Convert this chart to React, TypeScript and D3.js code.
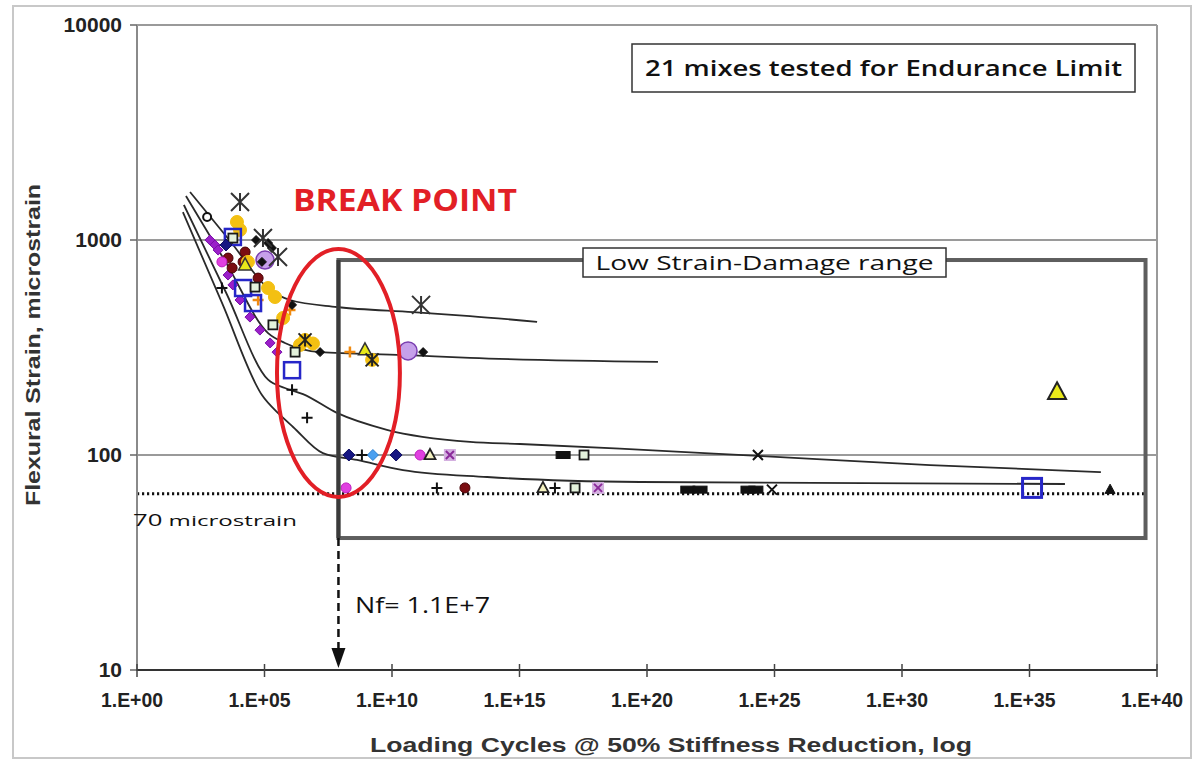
import React from 'react';
import * as d3 from 'd3';

// ---------- data ----------
const X_EXPONENTS = [0, 5, 10, 15, 20, 25, 30, 35, 40];
const Y_TICKS = [10, 100, 1000, 10000];

// fitted fatigue curves: [log10(loading cycles), microstrain]
const curveA: [number, number][] = [[2.08, 1672], [3.65, 989], [5.22, 585], [6.0, 526], [7.84, 488], [10.82, 462], [13.06, 443], [15.69, 416]];
const curveB: [number, number][] = [[1.92, 1602], [3.53, 770], [5.14, 369], [5.8, 332], [7.18, 301], [10.43, 292], [13.06, 283], [20.43, 271]];
const curveC: [number, number][] = [[1.84, 1455], [3.49, 570], [5.14, 224], [5.8, 205], [6.51, 192], [7.84, 157], [9.8, 131], [13.06, 115], [15.02, 112.5], [18.94, 107], [24.35, 99], [31.1, 89.8], [37.8, 83.3]];
const curveD: [number, number][] = [[1.8, 1349], [3.35, 504], [4.9, 190], [5.61, 153.5], [6.12, 135], [7.29, 102], [8.63, 94.8], [10.43, 85.1], [13.73, 79], [19.73, 74.9], [36.39, 73.3]];

// test results per marker type: [log10(cycles), microstrain]
const asteriskBig: [number, number][] = [[4.04, 1503], [4.94, 1021], [5.53, 834], [11.14, 499]];
const asteriskSmall: [number, number][] = [[9.22, 277], [6.59, 343]];
const goldCircle: [number, number][] = [[3.92, 1213], [4.04, 1114], [4.35, 791], [5.14, 598], [5.41, 543], [5.73, 434], [6.59, 343], [9.22, 277], [6.9, 330], [6.39, 325]];
const yellowTriangle: [number, number][] = [[4.24, 765], [8.94, 308]];
const yellowTriangleLarge: [number, number][] = [[36.08, 196]];
const blueSquare: [number, number][] = [[3.76, 1033], [4.16, 598], [4.55, 509], [6.08, 248]];
const blueSquareLarge: [number, number][] = [[35.1, 70.3]];
const openSquare: [number, number][] = [[3.76, 1021], [4.63, 604], [5.33, 403], [6.2, 301], [17.53, 100], [17.18, 70.3]];
const purpleDiamond: [number, number][] = [[2.86, 1000], [3.06, 948], [3.18, 898], [3.57, 687], [3.76, 618], [4.04, 526], [4.43, 438], [4.82, 381], [5.22, 332], [5.49, 301]];
const magentaCircle: [number, number][] = [[3.33, 791], [8.2, 70.3], [11.1, 100]];
const navyDiamond: [number, number][] = [[3.49, 948], [8.31, 100], [10.16, 100]];
const lightBlueDiamond: [number, number][] = [[9.25, 100]];
const blackPlus: [number, number][] = [[3.33, 598], [6.08, 201], [6.67, 149], [8.82, 100], [11.76, 70.3], [16.39, 70.3]];
const darkRedCircle: [number, number][] = [[3.57, 824], [3.73, 741], [4.16, 791], [4.24, 879], [4.75, 665], [12.86, 70.3]];
const openTriangle: [number, number][] = [[11.49, 100], [15.92, 70.3]];
const lavenderXSquare: [number, number][] = [[12.27, 100], [18.08, 70.3]];
const blackBar: [number, number][] = [[16.71, 100], [21.6, 69], [22.08, 69], [23.96, 69], [24.27, 69]];
const blackX: [number, number][] = [[24.35, 100], [24.9, 69]];
const blackTriangle: [number, number][] = [[38.16, 69]];
const lavenderCircle: [number, number][] = [[5.02, 807], [10.63, 305]];
const blackDiamond: [number, number][] = [[4.67, 1000], [4.9, 791], [5.14, 968], [5.29, 918], [6.08, 499], [7.18, 301], [11.22, 301]];
const orangePlus: [number, number][] = [[4.75, 526], [6.0, 472], [8.35, 301]];
const openCircle: [number, number][] = [[2.75, 1279]];

// annotation geometry in data units
const ENDURANCE_LIMIT = 66;
const BREAK_LOGN = 7.9;
const BOX_RIGHT_LOGN = 39.55;
const BOX_TOP = 807;
const BOX_BOTTOM = 41.1;
const ELLIPSE_LOGN: [number, number] = [5.49, 10.31];
const ELLIPSE_STRAIN: [number, number] = [63.8, 908];

// ---------- layout ----------
const W = 1196;
const H = 761;
const M = { left: 137, right: 1157, top: 25, bottom: 670 };

const xs = d3.scaleLog().domain([1, 1e40]).range([M.left, M.right]);
const ys = d3.scaleLog().domain([10, 10000]).range([M.bottom, M.top]);
const X = (e: number) => xs(Math.pow(10, e));
const Y = (v: number) => ys(v);

type Shape = 'circle' | 'square' | 'diamond' | 'triangle' | 'plus' | 'x' | 'asterisk' | 'bar' | 'xsquare';
interface Series { pts: [number, number][]; shape: Shape; size: number; fill: string; stroke: string; sw: number; }

const SERIES: Series[] = [
  { pts: purpleDiamond, shape: 'diamond', size: 10, fill: '#9a1fc9', stroke: '#7a10a8', sw: 1 },
  { pts: darkRedCircle, shape: 'circle', size: 10, fill: '#7a0d12', stroke: '#4a0508', sw: 1 },
  { pts: goldCircle, shape: 'circle', size: 13, fill: '#f3c012', stroke: '#f3c012', sw: 1 },
  { pts: orangePlus, shape: 'plus', size: 11, fill: 'none', stroke: '#f08a10', sw: 2.5 },
  { pts: lavenderCircle, shape: 'circle', size: 18, fill: '#c6a0ea', stroke: '#7a3fb0', sw: 1.5 },
  { pts: blueSquare, shape: 'square', size: 16, fill: 'none', stroke: '#2626c8', sw: 2.5 },
  { pts: blueSquareLarge, shape: 'square', size: 19, fill: 'none', stroke: '#2626c8', sw: 3 },
  { pts: openSquare, shape: 'square', size: 9, fill: '#e4f2dc', stroke: '#1a1a1a', sw: 1.8 },
  { pts: magentaCircle, shape: 'circle', size: 10, fill: '#e040e0', stroke: '#c020c0', sw: 1 },
  { pts: navyDiamond, shape: 'diamond', size: 12, fill: '#161682', stroke: '#0d0d60', sw: 1 },
  { pts: lightBlueDiamond, shape: 'diamond', size: 11, fill: '#4aa0f0', stroke: '#2a80d0', sw: 1 },
  { pts: blackDiamond, shape: 'diamond', size: 9, fill: '#111', stroke: '#111', sw: 1 },
  { pts: blackPlus, shape: 'plus', size: 11, fill: 'none', stroke: '#111', sw: 2 },
  { pts: openTriangle, shape: 'triangle', size: 11, fill: '#f4f2c0', stroke: '#222', sw: 1.8 },
  { pts: yellowTriangle, shape: 'triangle', size: 13, fill: '#e8e81a', stroke: '#333', sw: 1.5 },
  { pts: yellowTriangleLarge, shape: 'triangle', size: 18, fill: '#e8e81a', stroke: '#222', sw: 2 },
  { pts: lavenderXSquare, shape: 'xsquare', size: 12, fill: '#d4b0e0', stroke: '#8a2a9a', sw: 2 },
  { pts: blackBar, shape: 'bar', size: 14, fill: '#111', stroke: '#111', sw: 1 },
  { pts: blackX, shape: 'x', size: 10, fill: 'none', stroke: '#111', sw: 2 },
  { pts: blackTriangle, shape: 'triangle', size: 10, fill: '#111', stroke: '#111', sw: 1 },
  { pts: openCircle, shape: 'circle', size: 8, fill: '#fff', stroke: '#111', sw: 2 },
  { pts: asteriskBig, shape: 'asterisk', size: 18, fill: 'none', stroke: '#333', sw: 2 },
  { pts: asteriskSmall, shape: 'asterisk', size: 13, fill: 'none', stroke: '#222', sw: 2 },
];

function marker(s: Series, cx: number, cy: number, key: string) {
  const h = s.size / 2;
  const common = { fill: s.fill, stroke: s.stroke, strokeWidth: s.sw };
  switch (s.shape) {
    case 'circle':
      return <circle key={key} cx={cx} cy={cy} r={h} {...common} />;
    case 'square':
      return <rect key={key} x={cx - h} y={cy - h} width={s.size} height={s.size} {...common} />;
    case 'diamond':
      return <path key={key} d={`M${cx},${cy - h}L${cx + h},${cy}L${cx},${cy + h}L${cx - h},${cy}Z`} {...common} />;
    case 'triangle':
      return <path key={key} d={`M${cx},${cy - h * 1.1}L${cx + h},${cy + h * 0.75}L${cx - h},${cy + h * 0.75}Z`} {...common} />;
    case 'plus':
      return <path key={key} d={`M${cx - h},${cy}H${cx + h}M${cx},${cy - h}V${cy + h}`} {...common} fill="none" />;
    case 'x':
      return <path key={key} d={`M${cx - h},${cy - h}L${cx + h},${cy + h}M${cx - h},${cy + h}L${cx + h},${cy - h}`} {...common} fill="none" />;
    case 'asterisk':
      return <path key={key} d={`M${cx - h},${cy - h}L${cx + h},${cy + h}M${cx - h},${cy + h}L${cx + h},${cy - h}M${cx},${cy - h}V${cy + h}`} {...common} fill="none" />;
    case 'bar':
      return <rect key={key} x={cx - h} y={cy - 3.5} width={s.size} height={7} {...common} />;
    case 'xsquare':
      return (
        <g key={key}>
          <rect x={cx - h} y={cy - h} width={s.size} height={s.size} fill={s.fill} stroke="none" />
          <path d={`M${cx - h + 2},${cy - h + 2}L${cx + h - 2},${cy + h - 2}M${cx - h + 2},${cy + h - 2}L${cx + h - 2},${cy - h + 2}`} stroke={s.stroke} strokeWidth={s.sw} />
        </g>
      );
  }
  return null;
}

const lineGen = d3
  .line<[number, number]>()
  .x((d) => X(d[0]))
  .y((d) => Y(d[1]))
  .curve(d3.curveMonotoneX);

const fmtTick = (e: number) => `1.E+${String(e).padStart(2, '0')}`;

export default function App() {
  const bx0 = X(BREAK_LOGN);
  const bx1 = X(BOX_RIGHT_LOGN);
  const by0 = Y(BOX_TOP);
  const by1 = Y(BOX_BOTTOM);
  const ex0 = X(ELLIPSE_LOGN[0]);
  const ex1 = X(ELLIPSE_LOGN[1]);
  const ey0 = Y(ELLIPSE_STRAIN[1]);
  const ey1 = Y(ELLIPSE_STRAIN[0]);
  const axisFont = "'Liberation Sans', Arial, sans-serif";
  const noteFont = "'Open Sans', 'Noto Sans', sans-serif";

  return (
    <svg width={W} height={H} style={{ position: 'absolute', left: 0, top: 0, background: '#fff' }}>
      {/* outer frame */}
      <rect x={13} y={6} width={1178} height={752} fill="none" stroke="#c8c8c8" strokeWidth={2} />

      {/* gridlines + plot frame */}
      {Y_TICKS.slice(1).map((v) => (
        <line key={v} x1={M.left} x2={M.right} y1={Y(v)} y2={Y(v)} stroke="#9a9a9a" strokeWidth={2} />
      ))}
      <line x1={M.right} x2={M.right} y1={M.top} y2={M.bottom} stroke="#9a9a9a" strokeWidth={2} />

      {/* fitted curves */}
      {[curveA, curveB, curveC, curveD].map((c, i) => (
        <path key={i} d={lineGen(c) || ''} fill="none" stroke="#2a2a2a" strokeWidth={1.8} />
      ))}

      {/* endurance limit dotted line */}
      <line x1={M.left} x2={bx1} y1={Y(ENDURANCE_LIMIT)} y2={Y(ENDURANCE_LIMIT)} stroke="#111" strokeWidth={3} strokeDasharray="2.2,2.8" />

      {/* markers */}
      {SERIES.map((s, si) => s.pts.map((p, pi) => marker(s, X(p[0]), Y(p[1]), `${si}-${pi}`)))}

      {/* low strain box */}
      <rect x={bx0} y={by0} width={bx1 - bx0} height={by1 - by0} fill="none" stroke="#5e5e5e" strokeWidth={4} />
      <line x1={bx0} x2={bx0} y1={by0} y2={by1} stroke="#3a3a3a" strokeWidth={4} />
      <rect x={583} y={248} width={363} height={29} fill="#fff" stroke="#333" strokeWidth={1.5} />
      <text x={764.5} y={270} textAnchor="middle" fontFamily={noteFont} fontSize={20} fill="#111" textLength={338} lengthAdjust="spacingAndGlyphs">
        Low Strain-Damage range
      </text>

      {/* break point arrow */}
      <line x1={bx0} x2={bx0} y1={by1} y2={Y(10) - 20} stroke="#111" strokeWidth={2.5} strokeDasharray="8,5" />
      <path d={`M${bx0 - 7},${Y(10) - 22}L${bx0 + 7},${Y(10) - 22}L${bx0},${Y(10) - 2}Z`} fill="#111" />

      {/* red ellipse */}
      <ellipse cx={(ex0 + ex1) / 2} cy={(ey0 + ey1) / 2} rx={(ex1 - ex0) / 2} ry={(ey1 - ey0) / 2} fill="none" stroke="#e21f26" strokeWidth={4} />

      {/* axes */}
      <line x1={M.left} x2={M.left} y1={M.top} y2={M.bottom} stroke="#8a8a8a" strokeWidth={2} />
      <line x1={M.left} x2={M.right} y1={M.top} y2={M.top} stroke="#9a9a9a" strokeWidth={2} />
      <line x1={M.left - 1} x2={M.right} y1={M.bottom} y2={M.bottom} stroke="#333" strokeWidth={2} />
      {Y_TICKS.map((v) => (
        <g key={v}>
          <line x1={M.left - 7} x2={M.left} y1={Y(v)} y2={Y(v)} stroke="#666" strokeWidth={1.5} />
          <text x={122} y={Y(v) + 7} textAnchor="end" fontFamily={axisFont} fontWeight="bold" fontSize={21} fill="#222">
            {v}
          </text>
        </g>
      ))}
      {X_EXPONENTS.map((e) => (
        <g key={e}>
          <line x1={X(e)} x2={X(e)} y1={M.bottom - 6} y2={M.bottom + 7} stroke="#444" strokeWidth={1.5} />
          <text x={X(e) - 5} y={707} textAnchor="middle" fontFamily={axisFont} fontWeight="bold" fontSize={20} fill="#222" textLength={62} lengthAdjust="spacingAndGlyphs">
            {fmtTick(e)}
          </text>
        </g>
      ))}
      <text x={671} y={752} textAnchor="middle" fontFamily={axisFont} fontWeight="bold" fontSize={20} fill="#333" textLength={602} lengthAdjust="spacingAndGlyphs">
        Loading Cycles @ 50% Stiffness Reduction, log
      </text>
      <text transform="translate(40,345) rotate(-90)" textAnchor="middle" fontFamily={axisFont} fontWeight="bold" fontSize={20} fill="#333" textLength={322} lengthAdjust="spacingAndGlyphs">
        Flexural Strain, microstrain
      </text>

      {/* annotations */}
      <rect x={632} y={44} width={503} height={48} fill="#fff" stroke="#333" strokeWidth={1.5} />
      <text x={883.5} y={76} textAnchor="middle" fontFamily={noteFont} fontWeight={600} fontSize={22} fill="#111" textLength={477} lengthAdjust="spacingAndGlyphs">
        21 mixes tested for Endurance Limit
      </text>
      <text x={293} y={211} fontFamily={noteFont} fontWeight="bold" fontSize={31} fill="#e21f26" textLength={224} lengthAdjust="spacingAndGlyphs">
        BREAK POINT
      </text>
      <text x={355} y={613} fontFamily={noteFont} fontSize={22} fill="#111" textLength={135} lengthAdjust="spacingAndGlyphs">
        Nf= 1.1E+7
      </text>
      <text x={133} y={526} fontFamily={noteFont} fontSize={15} fill="#111" textLength={164} lengthAdjust="spacingAndGlyphs">
        <tspan fontSize={16}>70</tspan> microstrain
      </text>
    </svg>
  );
}
